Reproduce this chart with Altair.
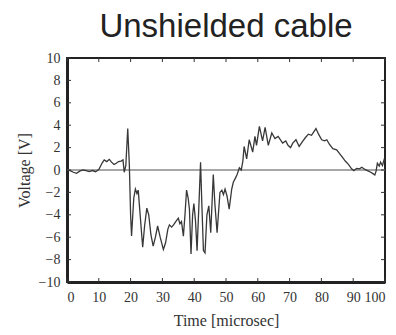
import altair as alt
import pandas as pd

# Waveform samples (time in microseconds, voltage in volts)
time_us = [0, 1, 2, 3, 4, 5, 6, 7, 8, 9, 10, 11, 11.7, 12.5, 13.3, 14, 14.8, 15.5, 16.2, 17,
           17.6, 18, 18.5, 19.1, 19.6, 20.0, 20.3, 21.0, 21.5, 22.0, 22.4, 23.0, 23.8, 24.4,
           25.1, 25.7, 26.4, 27.1, 27.8, 28.5, 29.3, 30.3, 31.0, 31.7, 32.2, 32.9, 33.5, 34.2,
           35.0, 35.5, 36.0, 36.6, 37.1, 37.6, 38.1, 38.5, 39.0, 39.5, 39.9, 40.4, 40.9, 41.5,
           42.0, 42.4, 42.9, 43.4, 44.0, 44.6, 45.2, 45.6, 46.0, 46.5, 47.2, 47.6, 48.1, 48.7,
           49.2, 49.7, 50.3, 51.0, 51.8, 52.3, 53.0, 53.5, 54.2, 54.8, 55.3, 55.7, 56.5, 57.3,
           58.4, 59.1, 59.6, 60.5, 61.5, 62.3, 63.3, 64.4, 65.4, 66.4, 67.8, 68.8, 69.5, 70.3,
           71.0, 72.0, 73.0, 74.2, 75.0, 75.9, 76.9, 77.6, 78.3, 79.1, 80.1, 81.0, 81.7, 82.5,
           83.6, 84.8, 85.9, 86.7, 87.5, 88.5, 89.5, 90.2, 91.1, 92.0, 92.7, 93.7, 94.8, 95.5,
           96.1, 96.8, 97.2, 97.6, 98.2, 98.6, 99.2, 99.7, 100]
voltage = [0.0, -0.05, -0.2, -0.3, -0.1, 0.0, -0.05, -0.15, -0.05, -0.15, 0.05, 0.6, 0.9, 0.75,
           0.95, 0.7, 0.5, 0.6, 0.75, 0.8, 0.9, -0.2, 0.4, 3.7, 0.5, -4.0, -5.9, -2.5, -1.7,
           -2.1, -1.8, -4.0, -6.9, -5.0, -3.4, -4.0, -5.8, -6.8, -6.0, -5.0, -6.0, -7.1, -6.5,
           -5.3, -4.9, -5.1, -4.9, -4.6, -4.3, -4.8, -4.6, -5.9, -4.0, -1.8, -2.5, -3.5, -7.5,
           -4.0, -3.0, -4.5, -7.2, -3.0, 0.7, -3.0, -7.2, -7.4, -4.0, -3.2, -5.6, -3.0, -0.4,
           -3.0, -5.6, -4.0, -2.0, -1.8, -2.2, -1.7, -2.3, -3.5, -1.7, -1.1, -0.7, -0.4, 0.2,
           0.0, 0.8, 2.1, 1.0, 2.7, 1.6, 3.0, 2.2, 3.9, 2.6, 3.8, 2.2, 3.3, 2.8, 3.0, 2.4, 2.6,
           2.2, 2.0, 2.4, 2.7, 2.1, 2.6, 2.9, 3.2, 3.1, 3.4, 3.7, 3.2, 2.7, 2.6, 2.7, 2.3, 1.9,
           1.8, 1.4, 1.1, 0.8, 0.5, 0.1, -0.05, 0.15, 0.1, 0.25, 0.05, -0.1, -0.2, -0.3, -0.45,
           -0.1, 0.6, 0.35, 0.7, 0.4, 0.9, 0.7]

x_ticks = [0, 10, 20, 30, 40, 50, 60, 70, 80, 90, 100]
y_ticks = [-10, -8, -6, -4, -2, 0, 2, 4, 6, 8, 10]
zero_level = [0]

W, H = 318, 224
SERIF = "Liberation Serif"

wave = pd.DataFrame({"t": time_us, "v": voltage})
xt = pd.DataFrame({"t": x_ticks})
yt = pd.DataFrame({"v": y_ticks})
zero = pd.DataFrame({"v": zero_level})

xscale = alt.Scale(domain=[0, 100], nice=False)
yscale = alt.Scale(domain=[-10, 10], nice=False)

x_axis = alt.Axis(values=x_ticks, title="Time [microsec]", ticks=False,
                  domain=True, domainColor="#222", domainWidth=3,
                  labelFont=SERIF, labelFontSize=14, labelColor="#333",
                  labelPadding=8, titleFont=SERIF, titleFontSize=16,
                  titleFontWeight="normal", titleColor="#333",
                  titlePadding=8, grid=False)
y_axis = alt.Axis(values=y_ticks, title="Voltage [V]", ticks=False,
                  domain=True, domainColor="#222", domainWidth=3,
                  labelFont=SERIF, labelFontSize=14, labelColor="#333",
                  labelPadding=7, titleFont=SERIF, titleFontSize=16,
                  titleFontWeight="normal", titleColor="#333",
                  titlePadding=6, grid=False)

X = alt.X("t:Q", scale=xscale, axis=x_axis)
Y = alt.Y("v:Q", scale=yscale, axis=y_axis)

line = alt.Chart(wave).mark_line(color="#383838", strokeWidth=1.3).encode(x=X, y=Y)

zero_rule = alt.Chart(zero).mark_rule(color="#8a8a8a", strokeWidth=1.5).encode(y=Y)

TK = 4
tick_style = dict(color="#333", strokeWidth=1)
bottom_ticks = alt.Chart(xt).mark_rule(**tick_style).encode(
    x=X, y=alt.value(H), y2=alt.value(H - TK))
top_ticks = alt.Chart(xt).mark_rule(**tick_style).encode(
    x=X, y=alt.value(0), y2=alt.value(TK))
left_ticks = alt.Chart(yt).mark_rule(**tick_style).encode(
    y=Y, x=alt.value(0), x2=alt.value(TK))
right_ticks = alt.Chart(yt).mark_rule(**tick_style).encode(
    y=Y, x=alt.value(W), x2=alt.value(W - TK))

chart = alt.layer(zero_rule, bottom_ticks, top_ticks, left_ticks, right_ticks, line).properties(
    width=W, height=H,
    background="white",
    title=alt.TitleParams("Unshielded cable", font="Liberation Sans", fontSize=33,
                          fontWeight="normal", color="#222", anchor="middle",
                          offset=7),
    autosize=alt.AutoSizeParams(type="none"),
    padding={"left": 67, "top": 58, "right": 11, "bottom": 53},
).configure_view(stroke="#222", strokeWidth=2)

chart.save("out.html", embed_options={"renderer": "svg", "actions": False})
